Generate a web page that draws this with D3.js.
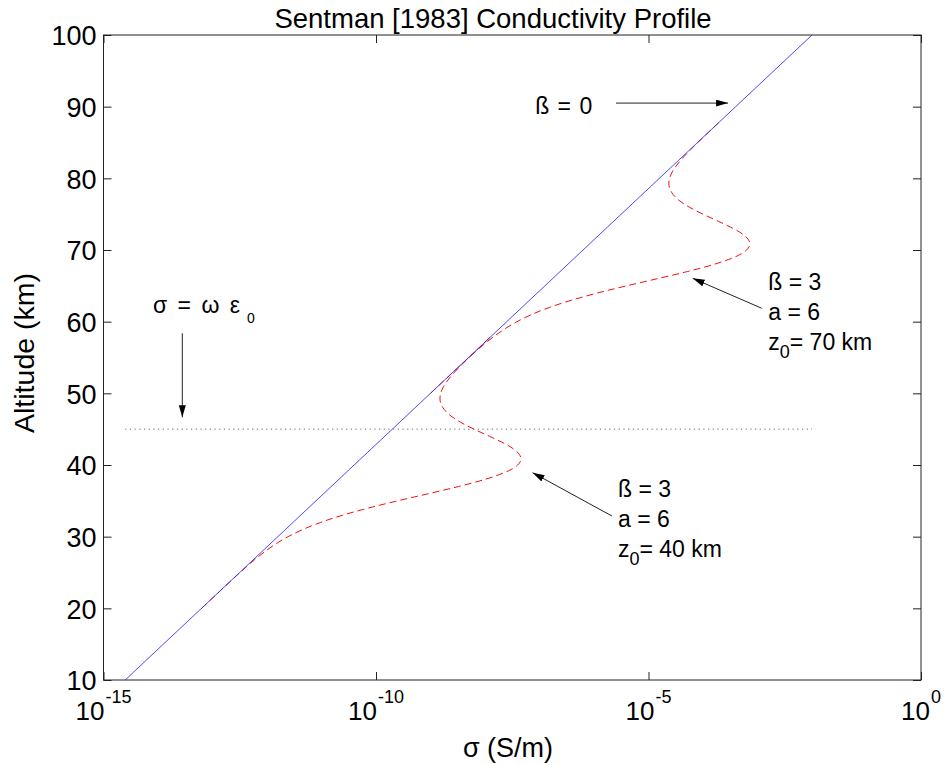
<!DOCTYPE html>
<html><head><meta charset="utf-8">
<script src="https://cdn.jsdelivr.net/npm/d3@7"></script>
<style>
html,body{margin:0;padding:0;background:#fff;}
svg{display:block;}
text{font-family:"Liberation Sans", Arial, Helvetica, sans-serif;fill:#000;}
</style></head><body>
<svg id="chart" width="946" height="765"></svg>
<script>
// ---- data ----
const xTickExponents = [-15, -10, -5, 0];
const yTickValues = [10, 20, 30, 40, 50, 60, 70, 80, 90, 100];

// beta = 0 profile (straight line on log axis)
const altitudeBase = [10, 100];
const sigmaBase = [2.5e-15, 1.0e-2];

// beta = 3, a = 6, z0 = 40 km (log10 of sigma)
const altitudeZ40 = [20, 22, 23, 24, 25, 26, 27, 28, 29, 30, 31, 32, 33, 34, 35, 36, 37, 38, 39, 39.5, 40, 40.5, 41, 41.5, 42, 42.5, 43, 44, 45, 46, 47, 48, 49, 50, 51, 52, 53, 54, 55, 56, 57, 58];
const log10SigmaZ40 = [-13.200, -12.920, -12.779, -12.638, -12.494, -12.347, -12.193, -12.025, -11.836, -11.613, -11.344, -11.013, -10.611, -10.136, -9.602, -9.036, -8.484, -7.996, -7.622, -7.491, -7.400, -7.351, -7.342, -7.372, -7.436, -7.528, -7.644, -7.916, -8.202, -8.456, -8.651, -8.773, -8.824, -8.813, -8.756, -8.665, -8.553, -8.427, -8.294, -8.158, -8.019, -7.880];

// beta = 3, a = 6, z0 = 70 km (log10 of sigma)
const altitudeZ70 = [50, 52, 53, 54, 55, 56, 57, 58, 59, 60, 61, 62, 63, 64, 65, 66, 67, 68, 69, 69.5, 70, 70.5, 71, 71.5, 72, 72.5, 73, 74, 75, 76, 77, 78, 79, 80, 81, 82, 83, 84, 85, 86, 87, 88];
const log10SigmaZ70 = [-9.000, -8.720, -8.579, -8.438, -8.294, -8.147, -7.993, -7.825, -7.636, -7.413, -7.144, -6.813, -6.411, -5.936, -5.402, -4.836, -4.284, -3.796, -3.422, -3.291, -3.200, -3.151, -3.142, -3.172, -3.236, -3.328, -3.444, -3.716, -4.002, -4.256, -4.451, -4.573, -4.624, -4.613, -4.556, -4.465, -4.353, -4.227, -4.094, -3.958, -3.819, -3.680];

// sigma = omega * epsilon0 level
const criticalAltitude = [45, 45];
const criticalSigma = [2.5e-15, 1.0e-2];

// ---- layout ----
const svg = d3.select("#chart");
const L = 103.5, R = 921, T = 35, B = 680;
const x = d3.scaleLog().domain([1e-15, 1]).range([L, R]);
const y = d3.scaleLinear().domain([10, 100]).range([B, T]);

const defs = svg.append("defs");
defs.append("marker").attr("id", "ah")
  .attr("markerUnits", "userSpaceOnUse")
  .attr("markerWidth", 13).attr("markerHeight", 8)
  .attr("refX", 12).attr("refY", 3.5).attr("orient", "auto")
  .append("path").attr("d", "M0,0 L12,3.5 L0,7 Z").attr("fill", "#000");

// red dashed profiles (under the blue line)
const redLine = d3.line().x(d => x(Math.pow(10, d[1]))).y(d => y(d[0])).curve(d3.curveCatmullRom);
[[altitudeZ40, log10SigmaZ40], [altitudeZ70, log10SigmaZ70]].forEach(([alts, vals]) => {
  svg.append("path").datum(alts.map((a, i) => [a, vals[i]]))
    .attr("d", redLine).attr("fill", "none")
    .attr("stroke", "#ee1111").attr("stroke-width", 1)
    .attr("stroke-dasharray", "7,4");
});

// blue base profile
const baseLine = d3.line().x(d => x(d[1])).y(d => y(d[0]));
svg.append("path").datum(altitudeBase.map((a, i) => [a, sigmaBase[i]]))
  .attr("d", baseLine).attr("fill", "none")
  .attr("stroke", "#2a2aff").attr("stroke-width", 0.85);

// dotted level line
svg.append("path").datum(criticalAltitude.map((a, i) => [a, criticalSigma[i]]))
  .attr("d", baseLine).attr("fill", "none")
  .attr("stroke", "#666").attr("stroke-width", 1)
  .attr("stroke-dasharray", "1.2,3.5");

// ---- axes ----
const axisColor = "#222";
const tickLen = 8;
const xTickVals = xTickExponents.map(e => Math.pow(10, e));
function styleAxis(g) {
  g.select(".domain").remove();
  g.selectAll(".tick line").attr("stroke", axisColor).attr("stroke-width", 1);
}
svg.append("g").attr("transform", `translate(0,${B})`)
  .call(d3.axisTop(x).tickValues(xTickVals).tickSize(tickLen).tickFormat(""))
  .call(styleAxis);
svg.append("g").attr("transform", `translate(0,${T})`)
  .call(d3.axisBottom(x).tickValues(xTickVals).tickSize(tickLen).tickFormat(""))
  .call(styleAxis);
svg.append("g").attr("transform", `translate(${L},0)`)
  .call(d3.axisRight(y).tickValues(yTickValues).tickSize(tickLen).tickFormat(""))
  .call(styleAxis);
svg.append("g").attr("transform", `translate(${R},0)`)
  .call(d3.axisLeft(y).tickValues(yTickValues).tickSize(tickLen).tickFormat(""))
  .call(styleAxis);

// y tick labels
const yLab = svg.append("g").attr("transform", `translate(${L},0)`)
  .call(d3.axisLeft(y).tickValues(yTickValues).tickSize(0).tickPadding(7).tickFormat(d3.format("d")));
yLab.select(".domain").remove();
yLab.selectAll("text").attr("font-size", 27).attr("font-family", null).attr("dy", "0.36em");

// x tick labels 10^n
const xLab = svg.append("g");
xTickExponents.forEach(e => {
  const t = xLab.append("text").attr("x", x(Math.pow(10, e))).attr("y", 720)
    .attr("text-anchor", "middle").attr("font-size", 26);
  t.append("tspan").text("10");
  t.append("tspan").attr("dy", -17).attr("dx", 1).attr("font-size", 18).text(e === 0 ? "0" : "-" + Math.abs(e));
});

// box
svg.append("rect").attr("x", L).attr("y", T).attr("width", R - L).attr("height", B - T)
  .attr("fill", "none").attr("stroke", axisColor).attr("stroke-width", 1);

// titles
svg.append("text").attr("x", 493).attr("y", 28).attr("text-anchor", "middle")
  .attr("font-size", 27.5).text("Sentman [1983] Conductivity Profile");
svg.append("text").attr("transform", "translate(33.5,353) rotate(-90)")
  .attr("text-anchor", "middle").attr("font-size", 28.5).text("Altitude (km)");
svg.append("text").attr("x", 508).attr("y", 757).attr("text-anchor", "middle")
  .attr("font-size", 27).text("σ (S/m)");

// ---- annotations (positions in data coordinates) ----
const ann = svg.append("g");
function arrow(s1, a1, s2, a2) {
  ann.append("line")
    .attr("x1", x(Math.pow(10, s1))).attr("y1", y(a1))
    .attr("x2", x(Math.pow(10, s2))).attr("y2", y(a2))
    .attr("stroke", "#222").attr("stroke-width", 1)
    .attr("marker-end", "url(#ah)");
}
function paramLabel(s, alts, zText) {
  const fs = 23;
  const px = x(Math.pow(10, s));
  ann.append("text").attr("x", px).attr("y", y(alts[0])).attr("font-size", fs).text("ß = 3");
  ann.append("text").attr("x", px).attr("y", y(alts[1])).attr("font-size", fs).text("a = 6");
  const t = ann.append("text").attr("x", px).attr("y", y(alts[2])).attr("font-size", fs);
  t.append("tspan").text("z");
  t.append("tspan").attr("dy", 8).attr("font-size", 18).text("0");
  t.append("tspan").attr("dy", -8).text("= " + zText);
}

// beta = 0
ann.append("text").attr("x", x(Math.pow(10, -7.08))).attr("y", y(89.0)).attr("font-size", 23)
  .attr("word-spacing", 2).text("ß = 0");
arrow(-5.596, 90.5, -3.54, 90.5);

// z0 = 70 km
paramLabel(-2.802, [64.42, 60.23, 56.05], "70 km");
arrow(-2.923, 61.87, -4.189, 66.05);

// z0 = 40 km
paramLabel(-5.56, [35.54, 31.35, 27.16], "40 km");
arrow(-5.67, 32.88, -7.127, 38.93);

// sigma = omega epsilon0
const st = ann.append("text").attr("x", x(Math.pow(10, -14.092))).attr("y", y(61.21))
  .attr("font-size", 23).attr("font-family", "DejaVu Sans, sans-serif")
  .attr("word-spacing", 4);
st.append("tspan").text("σ = ω ε");
st.append("tspan").attr("dx", 7).attr("dy", 10).attr("font-size", 14).text("0");
arrow(-13.554, 58.38, -13.554, 46.66);
</script>
</body></html>
